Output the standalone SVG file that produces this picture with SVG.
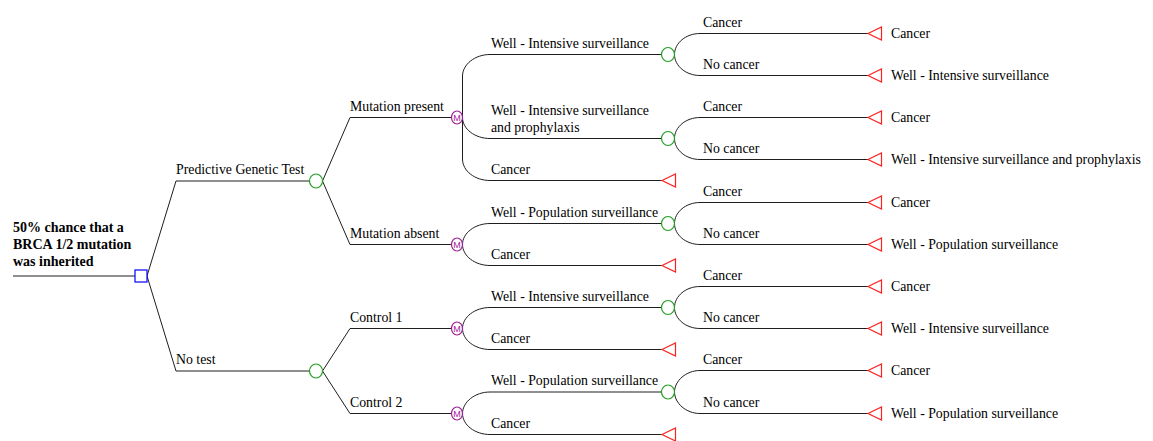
<svg xmlns="http://www.w3.org/2000/svg" width="1153" height="441" viewBox="0 0 1153 441">
<style>
.ln{fill:none;stroke:#1e1e1e;stroke-width:1}
.dc{fill:#fff;stroke:#0000ff;stroke-width:1.2}
.ch{fill:#fff;stroke:#22a022;stroke-width:1.2}
.mk{fill:#fff;stroke:#a0209a;stroke-width:1.2}
.tm{fill:#fff;stroke:#ff2020;stroke-width:1.2}
text{font-family:"Liberation Serif","Times New Roman",serif;font-size:13.8px;fill:#000}
.b{font-weight:bold;font-size:14px}
.m{font-family:"Liberation Sans",Arial,sans-serif;font-size:9px;fill:#a0209a;text-anchor:middle}
</style>
<rect width="1153" height="441" fill="#fff"/>
<g id="connectors">
<path class="ln" d="M13,276H135"/>
<path class="ln" d="M147,276L176,181H309.5M147,276L176,371H309.5"/>
<path class="ln" d="M322.5,181L350,117.5H451.5M322.5,181L350,244.5H451.5"/>
<path class="ln" d="M322.5,371L350,328.5H451.5M322.5,371L350,413.5H451.5"/>
<path class="ln" d="M462.5,117.5V76C462.5,64.5 475,54.5 490,54.5H661.5"/>
<path class="ln" d="M462.5,117.5C462.5,129 475,138.5 490,138.5H661.5"/>
<path class="ln" d="M462.5,117.5V159C462.5,171 475,180.5 490,180.5H662"/>
<path class="ln" d="M462.5,244.5C462.5,233 475,223.5 490,223.5H661.5"/>
<path class="ln" d="M462.5,244.5C462.5,256 475,265.5 490,265.5H662"/>
<path class="ln" d="M462.5,328.5C462.5,317 475,307.5 490,307.5H661.5"/>
<path class="ln" d="M462.5,328.5C462.5,340 475,349.5 490,349.5H662"/>
<path class="ln" d="M462.5,413.5C462.5,402 475,392 490,392H661.5"/>
<path class="ln" d="M462.5,413.5C462.5,425 475,434.5 490,434.5H662"/>
<path class="ln" d="M674.5,54.5C674.5,43 686,33.5 700,33.5H868M674.5,54.5C674.5,66 686,75.5 700,75.5H868"/>
<path class="ln" d="M674.5,138.5C674.5,127 686,117.5 700,117.5H868M674.5,138.5C674.5,150 686,159.5 700,159.5H868"/>
<path class="ln" d="M674.5,223.5C674.5,212 686,202.5 700,202.5H868M674.5,223.5C674.5,235 686,244.5 700,244.5H868"/>
<path class="ln" d="M674.5,307.5C674.5,296 686,286.5 700,286.5H868M674.5,307.5C674.5,319 686,328.5 700,328.5H868"/>
<path class="ln" d="M674.5,392C674.5,381 686,370.5 700,370.5H868M674.5,392C674.5,403 686,413.5 700,413.5H868"/>
</g>
<g id="decision">
<text class="b" x="13" y="232">50% chance that a</text>
<text class="b" x="13" y="249">BRCA 1/2 mutation</text>
<text class="b" x="13" y="266">was inherited</text>
<rect class="dc" x="135" y="270" width="12" height="12"/>
</g>
<g id="chance-test">
<text x="176" y="174">Predictive Genetic Test</text>
<ellipse class="ch" cx="316" cy="181" rx="6.5" ry="7"/>
</g>
<g id="chance-notest">
<text x="176" y="364">No test</text>
<ellipse class="ch" cx="316" cy="371" rx="6.5" ry="7"/>
</g>
<g id="markov-present">
<text x="350" y="110.5">Mutation present</text>
<ellipse class="mk" cx="457" cy="117.5" rx="5.5" ry="6.5"/>
<text class="m" x="457" y="120.8">M</text>
</g>
<g id="markov-absent">
<text x="350" y="237.5">Mutation absent</text>
<ellipse class="mk" cx="457" cy="244.5" rx="5.5" ry="6.5"/>
<text class="m" x="457" y="247.8">M</text>
</g>
<g id="markov-control1">
<text x="350" y="321.5">Control 1</text>
<ellipse class="mk" cx="457" cy="328.5" rx="5.5" ry="6.5"/>
<text class="m" x="457" y="331.8">M</text>
</g>
<g id="markov-control2">
<text x="350" y="406.5">Control 2</text>
<ellipse class="mk" cx="457" cy="413.5" rx="5.5" ry="6.5"/>
<text class="m" x="457" y="416.8">M</text>
</g>
<g id="chance-mp-intensive">
<text x="491" y="47.5">Well - Intensive surveillance</text>
<ellipse class="ch" cx="668" cy="54.5" rx="6.5" ry="7"/>
</g>
<g id="chance-mp-prophylaxis">
<text x="491" y="114.5">Well - Intensive surveillance</text>
<text x="491" y="131.5">and prophylaxis</text>
<ellipse class="ch" cx="668" cy="138.5" rx="6.5" ry="7"/>
</g>
<g id="term-mp-cancer">
<text x="491" y="173.5">Cancer</text>
<polygon class="tm" points="662,180.5 675.5,174 675.5,187"/>
</g>
<g id="chance-ma-population">
<text x="491" y="216.5">Well - Population surveillance</text>
<ellipse class="ch" cx="668" cy="223.5" rx="6.5" ry="7"/>
</g>
<g id="term-ma-cancer">
<text x="491" y="258.5">Cancer</text>
<polygon class="tm" points="662,265.5 675.5,259 675.5,272"/>
</g>
<g id="chance-c1-intensive">
<text x="491" y="300.5">Well - Intensive surveillance</text>
<ellipse class="ch" cx="668" cy="307.5" rx="6.5" ry="7"/>
</g>
<g id="term-c1-cancer">
<text x="491" y="342.5">Cancer</text>
<polygon class="tm" points="662,349.5 675.5,343 675.5,356"/>
</g>
<g id="chance-c2-population">
<text x="491" y="385">Well - Population surveillance</text>
<ellipse class="ch" cx="668" cy="392" rx="6.5" ry="7"/>
</g>
<g id="term-c2-cancer">
<text x="491" y="427.5">Cancer</text>
<polygon class="tm" points="662,434.5 675.5,428 675.5,441"/>
</g>
<g id="term-1"><text x="703" y="26.5">Cancer</text><polygon class="tm" points="868,33.5 881.5,27 881.5,40"/><text x="891" y="38">Cancer</text></g>
<g id="term-2"><text x="703" y="68.5">No cancer</text><polygon class="tm" points="868,75.5 881.5,69 881.5,82"/><text x="891" y="80">Well - Intensive surveillance</text></g>
<g id="term-3"><text x="703" y="110.5">Cancer</text><polygon class="tm" points="868,117.5 881.5,111 881.5,124"/><text x="891" y="122">Cancer</text></g>
<g id="term-4"><text x="703" y="152.5">No cancer</text><polygon class="tm" points="868,159.5 881.5,153 881.5,166"/><text x="891" y="164">Well - Intensive surveillance and prophylaxis</text></g>
<g id="term-5"><text x="703" y="195.5">Cancer</text><polygon class="tm" points="868,202.5 881.5,196 881.5,209"/><text x="891" y="207">Cancer</text></g>
<g id="term-6"><text x="703" y="237.5">No cancer</text><polygon class="tm" points="868,244.5 881.5,238 881.5,251"/><text x="891" y="249">Well - Population surveillance</text></g>
<g id="term-7"><text x="703" y="279.5">Cancer</text><polygon class="tm" points="868,286.5 881.5,280 881.5,293"/><text x="891" y="291">Cancer</text></g>
<g id="term-8"><text x="703" y="321.5">No cancer</text><polygon class="tm" points="868,328.5 881.5,322 881.5,335"/><text x="891" y="333">Well - Intensive surveillance</text></g>
<g id="term-9"><text x="703" y="363.5">Cancer</text><polygon class="tm" points="868,370.5 881.5,364 881.5,377"/><text x="891" y="375">Cancer</text></g>
<g id="term-10"><text x="703" y="406.5">No cancer</text><polygon class="tm" points="868,413.5 881.5,407 881.5,420"/><text x="891" y="418">Well - Population surveillance</text></g>
</svg>
